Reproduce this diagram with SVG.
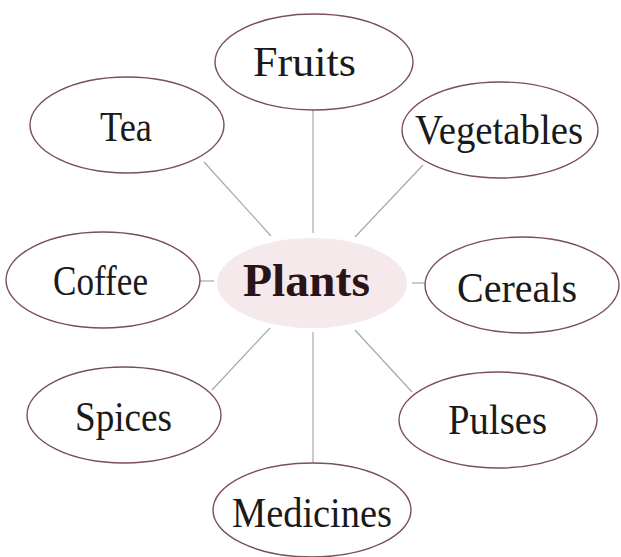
<svg xmlns="http://www.w3.org/2000/svg" width="621" height="557" viewBox="0 0 621 557">
<style>
.node ellipse{fill:#ffffff;stroke:#7a4f55;stroke-width:1.4}
.node text{font-family:"Liberation Serif","DejaVu Serif",serif;font-size:43px;fill:#1a1a1a}
#plants ellipse{fill:#f6e9eb;stroke:none}
#plants text{font-weight:bold;font-size:47px;fill:#2a1418}
.conn line{stroke:#a8a8a8;stroke-width:1.2}
</style>
<rect width="621" height="557" fill="#ffffff"/>
<g class="conn" id="connectors">
<line x1="313" y1="110" x2="313" y2="233"/>
<line x1="204" y1="162" x2="271" y2="236"/>
<line x1="423" y1="165" x2="355" y2="237"/>
<line x1="200" y1="281" x2="214" y2="281"/>
<line x1="412" y1="283" x2="425" y2="283"/>
<line x1="212" y1="390" x2="270" y2="328"/>
<line x1="412" y1="392" x2="355" y2="330"/>
<line x1="313" y1="332" x2="313" y2="463"/>
</g>
<g class="node" id="plants"><ellipse cx="312" cy="283" rx="95" ry="45"/><text x="243" y="296" textLength="127" lengthAdjust="spacingAndGlyphs">Plants</text></g>
<g class="node" id="fruits"><ellipse cx="314" cy="62" rx="99" ry="48"/><text x="253" y="76" textLength="103" lengthAdjust="spacingAndGlyphs">Fruits</text></g>
<g class="node" id="tea"><ellipse cx="127" cy="125" rx="97" ry="48"/><text x="100" y="141" textLength="52" lengthAdjust="spacingAndGlyphs">Tea</text></g>
<g class="node" id="vegetables"><ellipse cx="500" cy="130" rx="98" ry="48"/><text x="415" y="144" textLength="168" lengthAdjust="spacingAndGlyphs">Vegetables</text></g>
<g class="node" id="coffee"><ellipse cx="103" cy="280" rx="97" ry="48"/><text x="53" y="295" textLength="95" lengthAdjust="spacingAndGlyphs">Coffee</text></g>
<g class="node" id="cereals"><ellipse cx="522" cy="285" rx="97" ry="48"/><text x="457" y="302" textLength="120" lengthAdjust="spacingAndGlyphs">Cereals</text></g>
<g class="node" id="spices"><ellipse cx="124" cy="415" rx="97" ry="48"/><text x="75" y="431" textLength="97" lengthAdjust="spacingAndGlyphs">Spices</text></g>
<g class="node" id="pulses"><ellipse cx="498" cy="420" rx="99" ry="48"/><text x="448" y="434" textLength="99" lengthAdjust="spacingAndGlyphs">Pulses</text></g>
<g class="node" id="medicines"><ellipse cx="312" cy="510" rx="99" ry="47"/><text x="232" y="527" textLength="160" lengthAdjust="spacingAndGlyphs">Medicines</text></g>
</svg>
